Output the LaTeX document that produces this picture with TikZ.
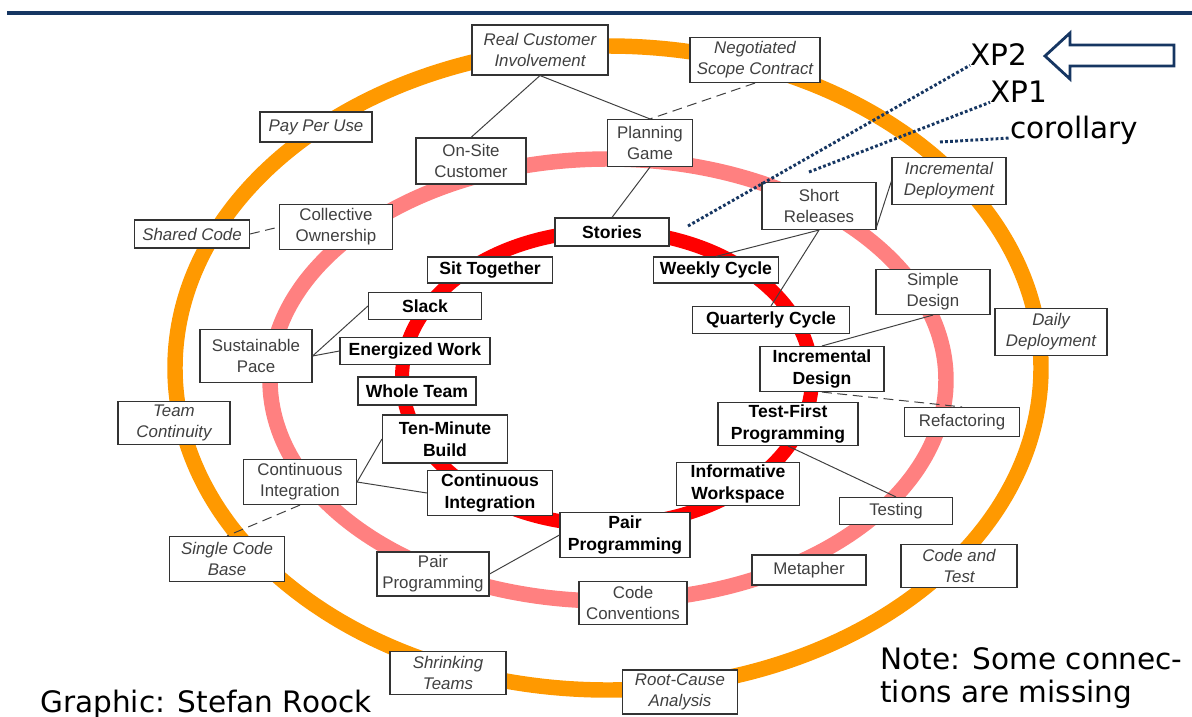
\documentclass[tikz,border=0pt]{standalone}
\usepackage{fontspec}
\setmainfont{Liberation Sans}
\newfontfamily\verd{DejaVu Sans}
\definecolor{ringo}{RGB}{255,153,0}
\definecolor{ringp}{RGB}{255,128,128}
\definecolor{ringr}{RGB}{255,0,0}
\definecolor{xpblue}{RGB}{22,54,98}
\tikzset{
  box/.style={draw=black!80, line width=0.8pt, fill=white, inner sep=0pt, align=center},
  bx/.style 2 args={minimum width=#1*0.025cm, minimum height=#2*0.025cm},
  outerbox/.style={box, font=\fontsize{12}{15}\selectfont\itshape, text=black!75},
  midbox/.style={box, font=\fontsize{12}{15}\selectfont, text=black!75},
  corebox/.style={box, font=\fontsize{12.5}{15.5}\selectfont\bfseries},
  link/.style={draw=black!75, line width=0.7pt},
  weak/.style={link, dash pattern=on 7pt off 4pt},
  xpline/.style={draw=xpblue, line width=2.1pt, dash pattern=on 2pt off 1.6pt},
  ring/.style={line width=11pt},
  bigtxt/.style={font=\verd\fontsize{21}{24}\selectfont, inner sep=0pt}
}
\begin{document}
\begin{tikzpicture}[x=0.025cm, y=-0.025cm]
\useasboundingbox (0,0) rectangle (1192,717);
\draw[xpblue, line width=2.4pt] (7,13) -- (1192,13);
% rings
\draw[ring, draw=ringo] (608,368) ellipse [x radius=433, y radius=322];
\draw[ring, draw=ringp] (608,380) ellipse [x radius=338, y radius=221];
\draw[ring, draw=ringr, line width=10pt] (607,378) ellipse [x radius=205, y radius=147];
% corollary practices
\node[outerbox, bx={136}{50}] (rci) at (540,50) {Real Customer\\Involvement};
\node[outerbox, bx={130}{45}] (nsc) at (755,60) {Negotiated\\Scope Contract};
\node[outerbox, bx={112}{30}] (ppu) at (316,127) {Pay Per Use};
\node[outerbox, bx={115}{28}] (shc) at (192,234) {Shared Code};
\node[outerbox, bx={114}{47}] (idp) at (949,181) {Incremental\\Deployment};
\node[outerbox, bx={112}{47}] (dd) at (1051,332) {Daily\\Deployment};
\node[outerbox, bx={112}{43}] (tc) at (174,423) {Team\\Continuity};
\node[outerbox, bx={115}{45}] (scb) at (227,559) {Single Code\\Base};
\node[outerbox, bx={116}{43}] (cat) at (959,566) {Code and\\Test};
\node[outerbox, bx={116}{43}] (stm) at (448,673) {Shrinking\\Teams};
\node[outerbox, bx={115}{44}] (rca) at (680,692) {Root-Cause\\Analysis};
% XP1 practices
\node[midbox, bx={110}{46}] (osc) at (471,161) {On-Site\\Customer};
\node[midbox, bx={85}{47}] (pg) at (650,143) {Planning\\Game};
\node[midbox, bx={114}{47}] (sr) at (819,206) {Short\\Releases};
\node[midbox, bx={113}{45}] (co) at (336,227) {Collective\\Ownership};
\node[midbox, bx={114}{45}] (sd) at (933,292) {Simple\\Design};
\node[midbox, bx={112}{53}] (sp) at (256,356) {Sustainable\\Pace};
\node[midbox, bx={115}{29}] (rf) at (962,422) {Refactoring};
\node[midbox, bx={113}{45}] (cip) at (300,482) {Continuous\\Integration};
\node[midbox, bx={113}{27}] (tst) at (896,511) {Testing};
\node[midbox, bx={112}{44}] (ppp) at (433,574) {Pair\\Programming};
\node[midbox, bx={114}{30}] (met) at (809,570) {Metapher};
\node[midbox, bx={108}{43}] (cc) at (633,603) {Code\\Conventions};
% XP2 primary practices
\node[corebox, bx={114}{28}] (sto) at (612,232) {Stories};
\node[corebox, bx={125}{26}] (sit) at (490,270) {Sit Together};
\node[corebox, bx={125}{26}] (wc) at (716,270) {Weekly Cycle};
\node[corebox, bx={113}{27}] (sl) at (425,306) {Slack};
\node[corebox, bx={157}{27}] (qc) at (771,320) {Quarterly Cycle};
\node[corebox, bx={150}{27}] (ew) at (415,351) {Energized Work};
\node[corebox, bx={124}{45}] (idn) at (822,369) {Incremental\\Design};
\node[corebox, bx={118}{28}] (wt) at (417,391) {Whole Team};
\node[corebox, bx={140}{43}] (tfp) at (788,424) {Test-First\\Programming};
\node[corebox, bx={125}{48}] (tmb) at (445,439) {Ten-Minute\\Build};
\node[corebox, bx={123}{43}] (iw) at (738,484) {Informative\\Workspace};
\node[corebox, bx={125}{45}] (cib) at (490,493) {Continuous\\Integration};
\node[corebox, bx={130}{45}] (ppb) at (625,535) {Pair\\Programming};
\draw[link] (rci.south) -- (osc.north);
\draw[link] (rci.south) -- (pg.north);
\draw[weak] (nsc.south) -- (pg.north);
\draw[link] (pg.south) -- (sto.north);
\draw[weak] (shc.east) -- (co.west);
\draw[link] (sr.south) -- (wc.north);
\draw[link] (sr.south) -- (qc.north);
\draw[link] (sr.-20) -- (idp.west);
\draw[link] (sl.west) -- (sp.east);
\draw[link] (ew.west) -- (sp.east);
\draw[link] (sd.south) -- (idn.north);
\draw[weak] (idn.south) -- (rf.north);
\draw[link] (tfp.south) -- (tst.north);
\draw[link] (cip.east) -- (tmb.west);
\draw[link] (cip.east) -- (cib.west);
\draw[weak] (cip.south) -- (scb.north);
\draw[link] (ppp.east) -- (ppb.west);
% legend
\node[bigtxt, anchor=base west] (xp2) at (970,65) {XP2};
\node[bigtxt, anchor=base west] (xp1) at (990,102) {XP1};
\node[bigtxt, anchor=base west] (cor) at (1010,138) {corollary};
\coordinate (c2) at (688,226);
\coordinate (c1) at (809,172);
\coordinate (c0) at (940,142);
\draw[xpline] (c2) -- (xp2.south west);
\draw[xpline] (c1) -- (xp1.south west);
\draw[xpline] (c0) -- (cor.base west);
\draw[xpblue, line width=2pt, fill=white] (1045,56) -- (1070,33) -- (1070,45) -- (1174,45) -- (1174,66) -- (1070,66) -- (1070,79) -- cycle;
\node[bigtxt, anchor=base west] (credit) at (40,712) {Graphic: Stefan Roock};
\node[bigtxt, anchor=north west, align=left] (note) at (880,647) {Note: Some connec-\\tions are missing};
\end{tikzpicture}
\end{document}
